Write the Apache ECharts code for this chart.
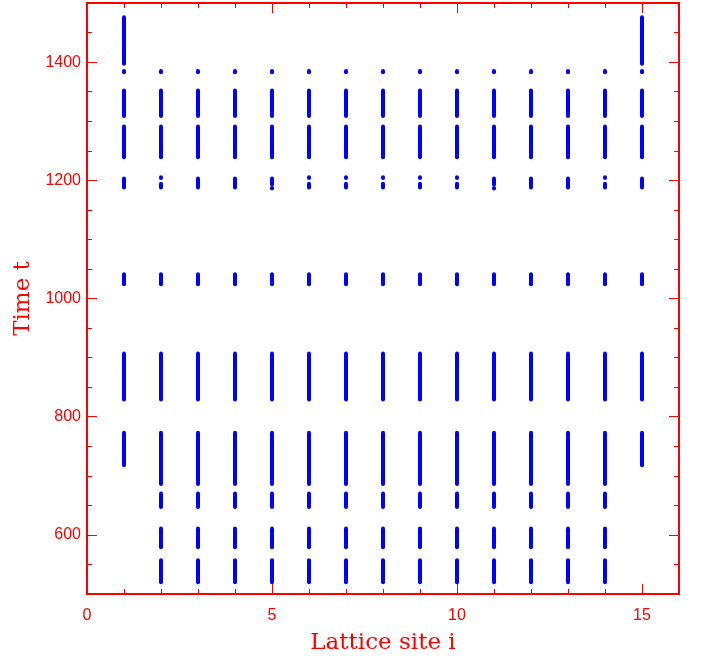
<!DOCTYPE html>
<html>
<head>
<meta charset="utf-8">
<script src="https://cdn.jsdelivr.net/npm/echarts@6/dist/echarts.min.js"></script>
<style>
  html, body { margin: 0; padding: 0; background: #fff; }
  #main { width: 707px; height: 656px; }
</style>
</head>
<body>
<div id="main"></div>
<script>
let myChart = echarts.init(document.getElementById('main'))

// lattice sites
const allSites = [1, 2, 3, 4, 5, 6, 7, 8, 9, 10, 11, 12, 13, 14, 15]
const edgeSites = [1, 15]
const innerSites = [2, 3, 4, 5, 6, 7, 8, 9, 10, 11, 12, 13, 14]

// time spans [start, end] of each band
const spanTopEdge = [1397, 1476]
const spanDot = [1383, 1385]
const spanC = [1309, 1352]
const spanD = [1239, 1291]
const spanF = [1024, 1041]
const spanG = [829, 907]
const spanHEdge = [718, 773]
const spanHInner = [686, 773]
const spanI = [647, 670]
const spanJ = [579, 611]
const spanK = [520, 557]

// the band near t = 1200 has a different shape at each site
const band1200Shape = ['solid', 'i', 'solid', 'solid', '!', 'i', 'i', 'i', 'i', 'i', '!', 'solid', 'solid', 'i', 'solid']
const band1200Spans = {
    'solid': [[1188, 1203]],
    'i': [[1188, 1194], [1204, 1205]],
    '!': [[1193, 1203], [1186, 1187]]
}

// tick values
const xMajorTicks = [0, 5, 10, 15]
const xMinorTicks = [1, 2, 3, 4, 6, 7, 8, 9, 11, 12, 13, 14]
const yMajorTicks = [600, 800, 1000, 1200, 1400]
const yMinorTicks = [550, 650, 700, 750, 850, 900, 950, 1050, 1100, 1150, 1250, 1300, 1350, 1450]

let segments = []
const addBand = (sites, span) => sites.forEach(s => segments.push([s, span[0], span[1]]))
addBand(edgeSites, spanTopEdge)
addBand(allSites, spanDot)
addBand(allSites, spanC)
addBand(allSites, spanD)
allSites.forEach((s, k) => band1200Spans[band1200Shape[k]].forEach(sp => segments.push([s, sp[0], sp[1]])))
addBand(allSites, spanF)
addBand(allSites, spanG)
addBand(edgeSites, spanHEdge)
addBand(innerSites, spanHInner)
addBand(innerSites, spanI)
addBand(innerSites, spanJ)
addBand(innerSites, spanK)

const red = '#ff0000'
const labelFont = { color: red, fontFamily: 'Liberation Sans', fontSize: 16, formatter: v => String(v) }
const nameFont = { color: red, fontFamily: 'DejaVu Serif', fontSize: 23 }

function makeAxis(kind, position, ticks, len, opts) {
    let ax = {
        type: 'value',
        position: position,
        min: kind === 'x' ? 0 : 500,
        max: kind === 'x' ? 16 : 1500,
        axisLine: { show: true, onZero: false, lineStyle: { color: red, width: 2 } },
        axisTick: { show: true, inside: true, length: len, customValues: ticks, lineStyle: { color: red, width: 1 } },
        axisLabel: { show: false },
        splitLine: { show: false }
    }
    return Object.assign(ax, opts || {})
}

let option = {
    backgroundColor: '#fff',
    animation: false,
    grid: { left: 87, right: 28, top: 3, bottom: 62, containLabel: false, outerBoundsMode: 'none' },
    xAxis: [
        makeAxis('x', 'bottom', xMajorTicks, 10, {
            name: 'Lattice site i',
            nameLocation: 'middle',
            nameGap: 38,
            nameTextStyle: nameFont,
            axisLabel: Object.assign({ show: true, margin: 14, customValues: xMajorTicks }, labelFont)
        }),
        makeAxis('x', 'bottom', xMinorTicks, 5),
        makeAxis('x', 'top', xMajorTicks, 10),
        makeAxis('x', 'top', xMinorTicks, 5)
    ],
    yAxis: [
        makeAxis('y', 'left', yMajorTicks, 10, {
            name: 'Time t',
            nameLocation: 'middle',
            nameGap: 48,
            nameTextStyle: nameFont,
            axisLabel: Object.assign({ show: true, margin: 6, customValues: yMajorTicks }, labelFont)
        }),
        makeAxis('y', 'left', yMinorTicks, 5),
        makeAxis('y', 'right', yMajorTicks, 10),
        makeAxis('y', 'right', yMinorTicks, 5)
    ],
    series: [
        {
            type: 'custom',
            xAxisIndex: 0,
            yAxisIndex: 0,
            encode: { x: 0, y: [1, 2] },
            data: segments,
            renderItem: (params, api) => {
                const p0 = api.coord([api.value(0), api.value(1)])
                const p1 = api.coord([api.value(0), api.value(2)])
                return {
                    type: 'line',
                    shape: { x1: p0[0], y1: p0[1], x2: p1[0], y2: p1[1] },
                    style: { stroke: '#0000ff', lineWidth: 4, lineCap: 'round' }
                }
            }
        }
    ]
}

myChart.setOption(option)
</script>
</body>
</html>
